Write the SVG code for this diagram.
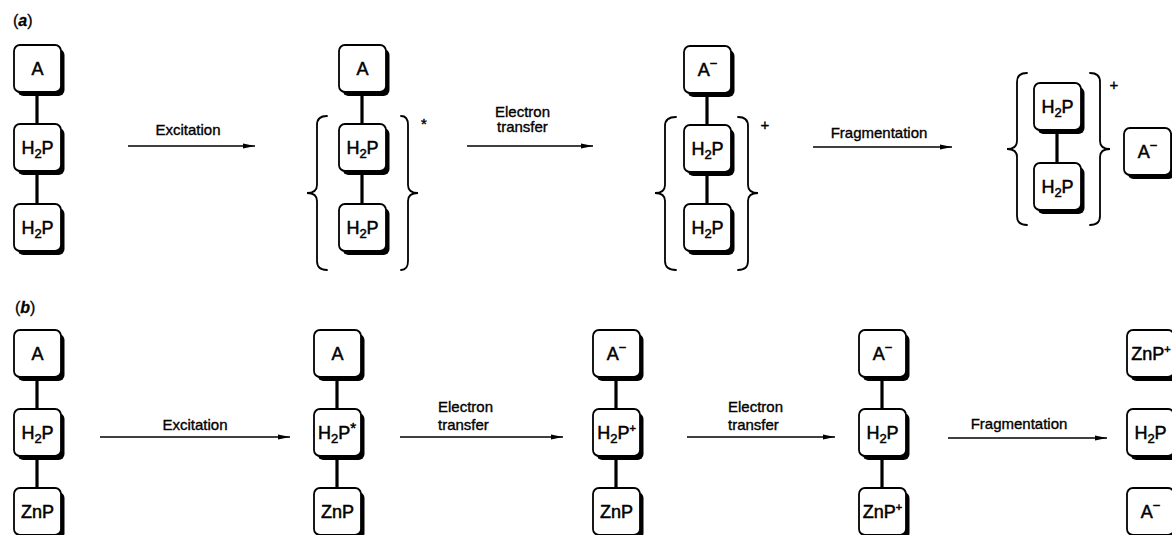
<svg xmlns="http://www.w3.org/2000/svg" width="1172" height="535" viewBox="0 0 1172 535">
  <style>
    .bg { fill: #ffffff; }
    .shadow { fill: #000000; }
    .box { fill: #ffffff; stroke: #000000; stroke-width: 1.8; }
    .link { stroke: #000000; stroke-width: 3.2; fill: none; }
    .brace { stroke: #000000; stroke-width: 1.8; fill: none; stroke-linecap: round; }
    .arrow { stroke: #000000; stroke-width: 1.3; fill: none; marker-end: url(#head); }
    .lbl { font-family: "Liberation Sans", Arial, sans-serif; font-size: 18px; fill: #000; stroke: #000; stroke-width: 0.5; text-anchor: middle; }
    .step { font-family: "Liberation Sans", Arial, sans-serif; font-size: 15px; fill: #000; stroke: #000; stroke-width: 0.35; }
    .mid { text-anchor: middle; }
    .panel { font-family: "Liberation Sans", Arial, sans-serif; font-size: 16px; fill: #000; stroke: #000; stroke-width: 0.3; }
    .charge { font-family: "Liberation Sans", Arial, sans-serif; font-size: 15px; fill: #000; stroke: #000; stroke-width: 0.4; text-anchor: middle; }
  </style>
  <defs>
    <marker id="head" markerUnits="userSpaceOnUse" markerWidth="13" markerHeight="7" refX="12" refY="3.5" orient="auto">
      <path d="M0,1 L12,3.5 L0,6 Z" fill="#000"/>
    </marker>
    <!-- porphyrin / acceptor unit: shadowed rounded square -->
    <g id="unit">
      <rect class="shadow" x="3.5" y="4" width="47" height="47" rx="6"/>
      <rect class="box" x="0" y="0" width="47" height="47" rx="6"/>
    </g>
  </defs>

  <rect class="bg" width="1172" height="535"/>

  <text class="panel" x="13" y="26">(<tspan font-style="italic" font-weight="bold">a</tspan>)</text>
  <text class="panel" x="15" y="313">(<tspan font-style="italic" font-weight="bold">b</tspan>)</text>

  <!-- connectors: arrows, labels, braces and charges -->
  <g id="connectors">
    <!-- row a -->
    <line class="arrow" x1="128" y1="146" x2="255" y2="146"/>
    <text class="step mid" x="188" y="135">Excitation</text>
    <line class="arrow" x1="467" y1="146" x2="593" y2="146"/>
    <text class="step" x="495" y="117">Electron</text>
    <text class="step" x="497" y="132">transfer</text>
    <line class="arrow" x1="813" y1="147" x2="952" y2="147"/>
    <text class="step mid" x="879" y="138">Fragmentation</text>

    <!-- row b -->
    <line class="arrow" x1="100" y1="437" x2="290" y2="437"/>
    <text class="step mid" x="195" y="430">Excitation</text>
    <line class="arrow" x1="400" y1="437" x2="563" y2="437"/>
    <text class="step" x="438" y="412">Electron</text>
    <text class="step" x="438" y="430">transfer</text>
    <line class="arrow" x1="687" y1="437" x2="835" y2="437"/>
    <text class="step" x="728" y="412">Electron</text>
    <text class="step" x="728" y="430">transfer</text>
    <line class="arrow" x1="948" y1="438" x2="1107" y2="438"/>
    <text class="step mid" x="1019" y="429">Fragmentation</text>

    <!-- braces -->
    <path class="brace" d="M327,116 Q317,116 317,125 L317,185 Q317,193 307,193 Q317,193 317,201 L317,261 Q317,270 327,270"/>
    <path class="brace" d="M401,116 Q408,116 408,125 L408,185 Q408,193 418,193 Q408,193 408,201 L408,261 Q408,270 401,270"/>
    <text class="charge" x="424" y="129" font-size="17">*</text>

    <path class="brace" d="M676,117 Q665,117 665,126 L665,185 Q665,193 655,193 Q665,193 665,201 L665,261 Q665,270 676,270"/>
    <path class="brace" d="M738,117 Q748,117 748,126 L748,185 Q748,193 758,193 Q748,193 748,201 L748,261 Q748,270 738,270"/>
    <text class="charge" x="765" y="130">+</text>

    <path class="brace" d="M1027,73 Q1017,73 1017,82 L1017,141 Q1017,149 1007,149 Q1017,149 1017,157 L1017,216 Q1017,225 1027,225"/>
    <path class="brace" d="M1090,73 Q1100,73 1100,82 L1100,141 Q1100,149 1110,149 Q1100,149 1100,157 L1100,216 Q1100,225 1090,225"/>
    <text class="charge" x="1114" y="90">+</text>
  </g>

  <!-- row a, starting dyad-acceptor -->
  <g id="a1">
    <line class="link" x1="37" y1="92" x2="37" y2="124"/>
    <line class="link" x1="37" y1="171" x2="37" y2="204"/>
    <use href="#unit" x="14" y="45"/>
    <use href="#unit" x="14" y="124"/>
    <use href="#unit" x="14" y="204"/>
    <text class="lbl" x="37.5" y="75">A</text>
    <text class="lbl" x="37.5" y="154">H<tspan font-size="13" dy="4">2</tspan><tspan dy="-4">P</tspan></text>
    <text class="lbl" x="37.5" y="234">H<tspan font-size="13" dy="4">2</tspan><tspan dy="-4">P</tspan></text>
  </g>

  <g id="a2">
    <line class="link" x1="362" y1="92" x2="362" y2="124"/>
    <line class="link" x1="362" y1="171" x2="362" y2="204"/>
    <use href="#unit" x="339" y="45"/>
    <use href="#unit" x="339" y="124"/>
    <use href="#unit" x="339" y="204"/>
    <text class="lbl" x="362.5" y="75">A</text>
    <text class="lbl" x="362.5" y="154">H<tspan font-size="13" dy="4">2</tspan><tspan dy="-4">P</tspan></text>
    <text class="lbl" x="362.5" y="234">H<tspan font-size="13" dy="4">2</tspan><tspan dy="-4">P</tspan></text>
  </g>

  <g id="a3">
    <line class="link" x1="707" y1="93" x2="707" y2="125"/>
    <line class="link" x1="707" y1="172" x2="707" y2="204"/>
    <use href="#unit" x="684" y="46"/>
    <use href="#unit" x="684" y="125"/>
    <use href="#unit" x="684" y="204"/>
    <text class="lbl" x="707.5" y="76">A<tspan font-size="13" dy="-8">−</tspan></text>
    <text class="lbl" x="707.5" y="155">H<tspan font-size="13" dy="4">2</tspan><tspan dy="-4">P</tspan></text>
    <text class="lbl" x="707.5" y="234">H<tspan font-size="13" dy="4">2</tspan><tspan dy="-4">P</tspan></text>
  </g>

  <g id="a4">
    <line class="link" x1="1057" y1="130" x2="1057" y2="163"/>
    <use href="#unit" x="1034" y="83"/>
    <use href="#unit" x="1034" y="163"/>
    <text class="lbl" x="1057.5" y="113">H<tspan font-size="13" dy="4">2</tspan><tspan dy="-4">P</tspan></text>
    <text class="lbl" x="1057.5" y="193">H<tspan font-size="13" dy="4">2</tspan><tspan dy="-4">P</tspan></text>
  </g>

  <g id="a5">
    <use href="#unit" x="1124" y="128"/>
    <text class="lbl" x="1147.5" y="158">A<tspan font-size="13" dy="-8">−</tspan></text>
  </g>

  <!-- row b, triad -->
  <g id="b1">
    <line class="link" x1="37" y1="377" x2="37" y2="409"/>
    <line class="link" x1="37" y1="456" x2="37" y2="488"/>
    <use href="#unit" x="14" y="330"/>
    <use href="#unit" x="14" y="409"/>
    <use href="#unit" x="14" y="488"/>
    <text class="lbl" x="37.5" y="360">A</text>
    <text class="lbl" x="37.5" y="439">H<tspan font-size="13" dy="4">2</tspan><tspan dy="-4">P</tspan></text>
    <text class="lbl" x="37.5" y="518">ZnP</text>
  </g>

  <g id="b2">
    <line class="link" x1="337" y1="377" x2="337" y2="409"/>
    <line class="link" x1="337" y1="456" x2="337" y2="488"/>
    <use href="#unit" x="314" y="330"/>
    <use href="#unit" x="314" y="409"/>
    <use href="#unit" x="314" y="488"/>
    <text class="lbl" x="337.5" y="360">A</text>
    <text class="lbl" x="337" y="439">H<tspan font-size="13" dy="4">2</tspan><tspan dy="-4">P</tspan><tspan font-size="15" dy="-6">*</tspan></text>
    <text class="lbl" x="337.5" y="518">ZnP</text>
  </g>

  <g id="b3">
    <line class="link" x1="616" y1="377" x2="616" y2="409"/>
    <line class="link" x1="616" y1="456" x2="616" y2="488"/>
    <use href="#unit" x="593" y="330"/>
    <use href="#unit" x="593" y="409"/>
    <use href="#unit" x="593" y="488"/>
    <text class="lbl" x="616.5" y="360">A<tspan font-size="13" dy="-8">−</tspan></text>
    <text class="lbl" x="616.5" y="439">H<tspan font-size="13" dy="4">2</tspan><tspan dy="-4">P</tspan><tspan font-size="11" dy="-7">+</tspan></text>
    <text class="lbl" x="616.5" y="518">ZnP</text>
  </g>

  <g id="b4">
    <line class="link" x1="882" y1="377" x2="882" y2="409"/>
    <line class="link" x1="882" y1="456" x2="882" y2="488"/>
    <use href="#unit" x="859" y="330"/>
    <use href="#unit" x="859" y="409"/>
    <use href="#unit" x="859" y="488"/>
    <text class="lbl" x="882.5" y="360">A<tspan font-size="13" dy="-8">−</tspan></text>
    <text class="lbl" x="882.5" y="439">H<tspan font-size="13" dy="4">2</tspan><tspan dy="-4">P</tspan></text>
    <text class="lbl" x="882.5" y="518">ZnP<tspan font-size="11" dy="-7">+</tspan></text>
  </g>

  <g id="b5">
    <use href="#unit" x="1127" y="330"/>
    <use href="#unit" x="1127" y="409"/>
    <use href="#unit" x="1127" y="488"/>
    <text class="lbl" x="1151" y="360">ZnP<tspan font-size="11" dy="-7">+</tspan></text>
    <text class="lbl" x="1150.5" y="439">H<tspan font-size="13" dy="4">2</tspan><tspan dy="-4">P</tspan></text>
    <text class="lbl" x="1150.5" y="518">A<tspan font-size="13" dy="-8">−</tspan></text>
  </g>
</svg>
